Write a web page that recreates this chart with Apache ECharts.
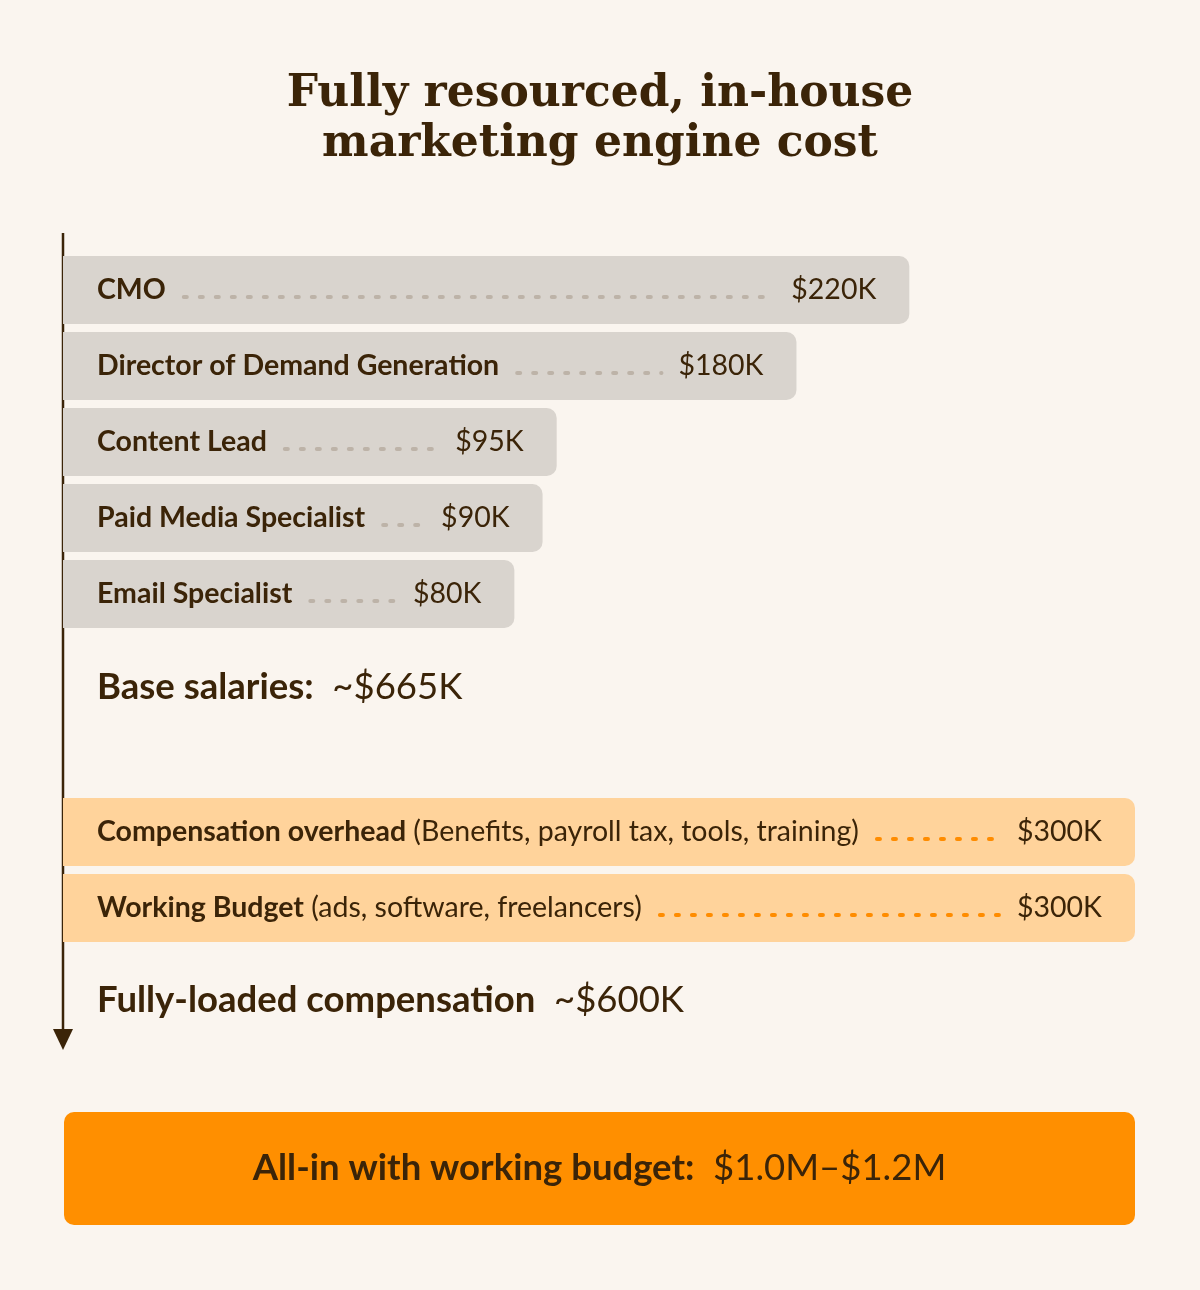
<!DOCTYPE html>
<html>
<head>
<meta charset="utf-8">
<script src="https://cdn.jsdelivr.net/npm/echarts@6/dist/echarts.min.js"></script>
<style>
  html, body { margin: 0; padding: 0; background: #FAF5EF; }
  #chart { width: 1200px; height: 1290px; }
</style>
</head>
<body>
<div id="chart"></div>
<script>
// data
const roles = ['CMO', 'Director of Demand Generation', 'Content Lead', 'Paid Media Specialist', 'Email Specialist'];
const salaries = [220, 180, 95, 90, 80]; // $K
const extraItems = ['Compensation overhead', 'Working Budget'];
const extraNotes = ['(Benefits, payroll tax, tools, training)', '(ads, software, freelancers)'];
const extraCosts = [300, 300]; // $K
const allInRange = ['$1.0M', '$1.2M'];

const INK = '#3B2408';
const FONT = 'Lato';
const X_MIN = -80, X_MAX = 300;

// text measuring for the dot leaders
const ctx = document.createElement('canvas').getContext('2d');
function textW(str, size, weight) {
  ctx.font = (weight || 'normal') + ' ' + size + 'px ' + FONT;
  return ctx.measureText(str).width;
}

const ROW_SIZE = 28.5;
const BIG_SIZE = 36.5;

function makeRender(labels, notes, bg, dotColor) {
  return function (params, api) {
    const i = params.dataIndex;
    const v = api.value(0);
    const cat = api.value(1);
    const start = api.coord([X_MIN, cat]);
    const end = api.coord([v, cat]);
    const band = api.size([0, 1])[1];
    const h = band - 8;
    const cy = start[1];
    const valStr = '$' + v + 'K';
    const lx = start[0] + 34;
    let labelW = textW(labels[i], ROW_SIZE, 'bold');
    let rich = '{b|' + labels[i] + '}';
    if (notes) {
      rich += '{r| ' + notes[i] + '}';
      labelW += textW(' ' + notes[i], ROW_SIZE, 'normal');
    }
    const vx = end[0] - 33;
    const vw = textW(valStr, ROW_SIZE, 'normal');
    const d0 = lx + labelW + 18;
    const d1 = vx - vw - 17;
    return {
      type: 'group',
      children: [
        {
          type: 'rect',
          shape: { x: start[0], y: cy - h / 2, width: end[0] - start[0], height: h, r: [0, 10, 10, 0] },
          style: { fill: bg }
        },
        {
          type: 'line',
          shape: { x1: d0, y1: cy + 7, x2: d1, y2: cy + 7 },
          style: { stroke: dotColor, lineWidth: 4, lineCap: 'round', lineDash: [3, 13] }
        },
        {
          type: 'text',
          x: lx, y: cy,
          style: {
            text: rich,
            verticalAlign: 'middle',
            rich: {
              b: { fontFamily: FONT, fontWeight: 'bold', fontSize: ROW_SIZE, fill: INK, color: INK },
              r: { fontFamily: FONT, fontWeight: 'normal', fontSize: ROW_SIZE, fill: INK, color: INK }
            }
          }
        },
        {
          type: 'text',
          x: vx, y: cy,
          style: {
            text: valStr, align: 'right', verticalAlign: 'middle',
            fontFamily: FONT, fontSize: ROW_SIZE, fill: INK
          }
        }
      ]
    };
  };
}

function bigText(x, y, boldPart, rest, align) {
  return {
    type: 'text', x: x, y: y,
    style: {
      text: '{b|' + boldPart + '}{r|  ' + rest + '}',
      align: align || 'left', verticalAlign: 'middle',
      rich: {
        b: { fontFamily: FONT, fontWeight: 'bold', fontSize: BIG_SIZE, fill: INK, color: INK },
        r: { fontFamily: FONT, fontSize: BIG_SIZE, fill: INK, color: INK }
      }
    }
  };
}

const baseTotal = salaries.reduce((a, b) => a + b, 0);
const extraTotal = extraCosts.reduce((a, b) => a + b, 0);

const chart = echarts.init(document.getElementById('chart'), null, { renderer: 'canvas' });

const option = {
  backgroundColor: '#FAF5EF',
  animation: false,
  grid: [
    { left: 63, right: 65, top: 252, height: 380 },
    { left: 63, right: 65, top: 794, height: 152 }
  ],
  xAxis: [
    { type: 'value', gridIndex: 0, min: X_MIN, max: X_MAX, show: false },
    { type: 'value', gridIndex: 1, min: X_MIN, max: X_MAX, show: false }
  ],
  yAxis: [
    { type: 'category', gridIndex: 0, data: roles, inverse: true, show: false },
    { type: 'category', gridIndex: 1, data: extraItems, inverse: true, show: false }
  ],
  series: [
    {
      type: 'custom',
      xAxisIndex: 0, yAxisIndex: 0,
      renderItem: makeRender(roles, null, '#D9D4CE', '#BDB3A8'),
      data: salaries.map((v, i) => [v, i])
    },
    {
      type: 'custom',
      xAxisIndex: 1, yAxisIndex: 1,
      renderItem: makeRender(extraItems, extraNotes, '#FFD39B', '#FF8C00'),
      data: extraCosts.map((v, i) => [v, i])
    }
  ],
  graphic: [
    // title
    {
      type: 'text', x: 600, y: 120,
      style: {
        text: 'Fully resourced, in-house\nmarketing engine cost',
        align: 'center', verticalAlign: 'middle',
        fontFamily: 'DejaVu Serif', fontWeight: 'bold', fontSize: 44, lineHeight: 50,
        fill: INK
      }
    },
    // timeline arrow
    { type: 'line', shape: { x1: 63, y1: 233, x2: 63, y2: 1032 }, style: { stroke: INK, lineWidth: 2.5 } },
    { type: 'polygon', shape: { points: [[53, 1029], [73, 1029], [63, 1050]] }, style: { fill: INK } },
    bigText(97, 687, 'Base salaries:', '~$' + baseTotal + 'K'),
    bigText(97, 1000, 'Fully-loaded compensation', '~$' + extraTotal + 'K'),
    {
      type: 'group', left: 64, top: 1112,
      children: [
        { type: 'rect', shape: { x: 0, y: 0, width: 1071, height: 113, r: 10 }, style: { fill: '#FF8F00' } },
        bigText(535.5, 56.5, 'All-in with working budget:', allInRange[0] + '\u2013' + allInRange[1], 'center')
      ]
    }
  ]
};

chart.setOption(option);
</script>
</body>
</html>
